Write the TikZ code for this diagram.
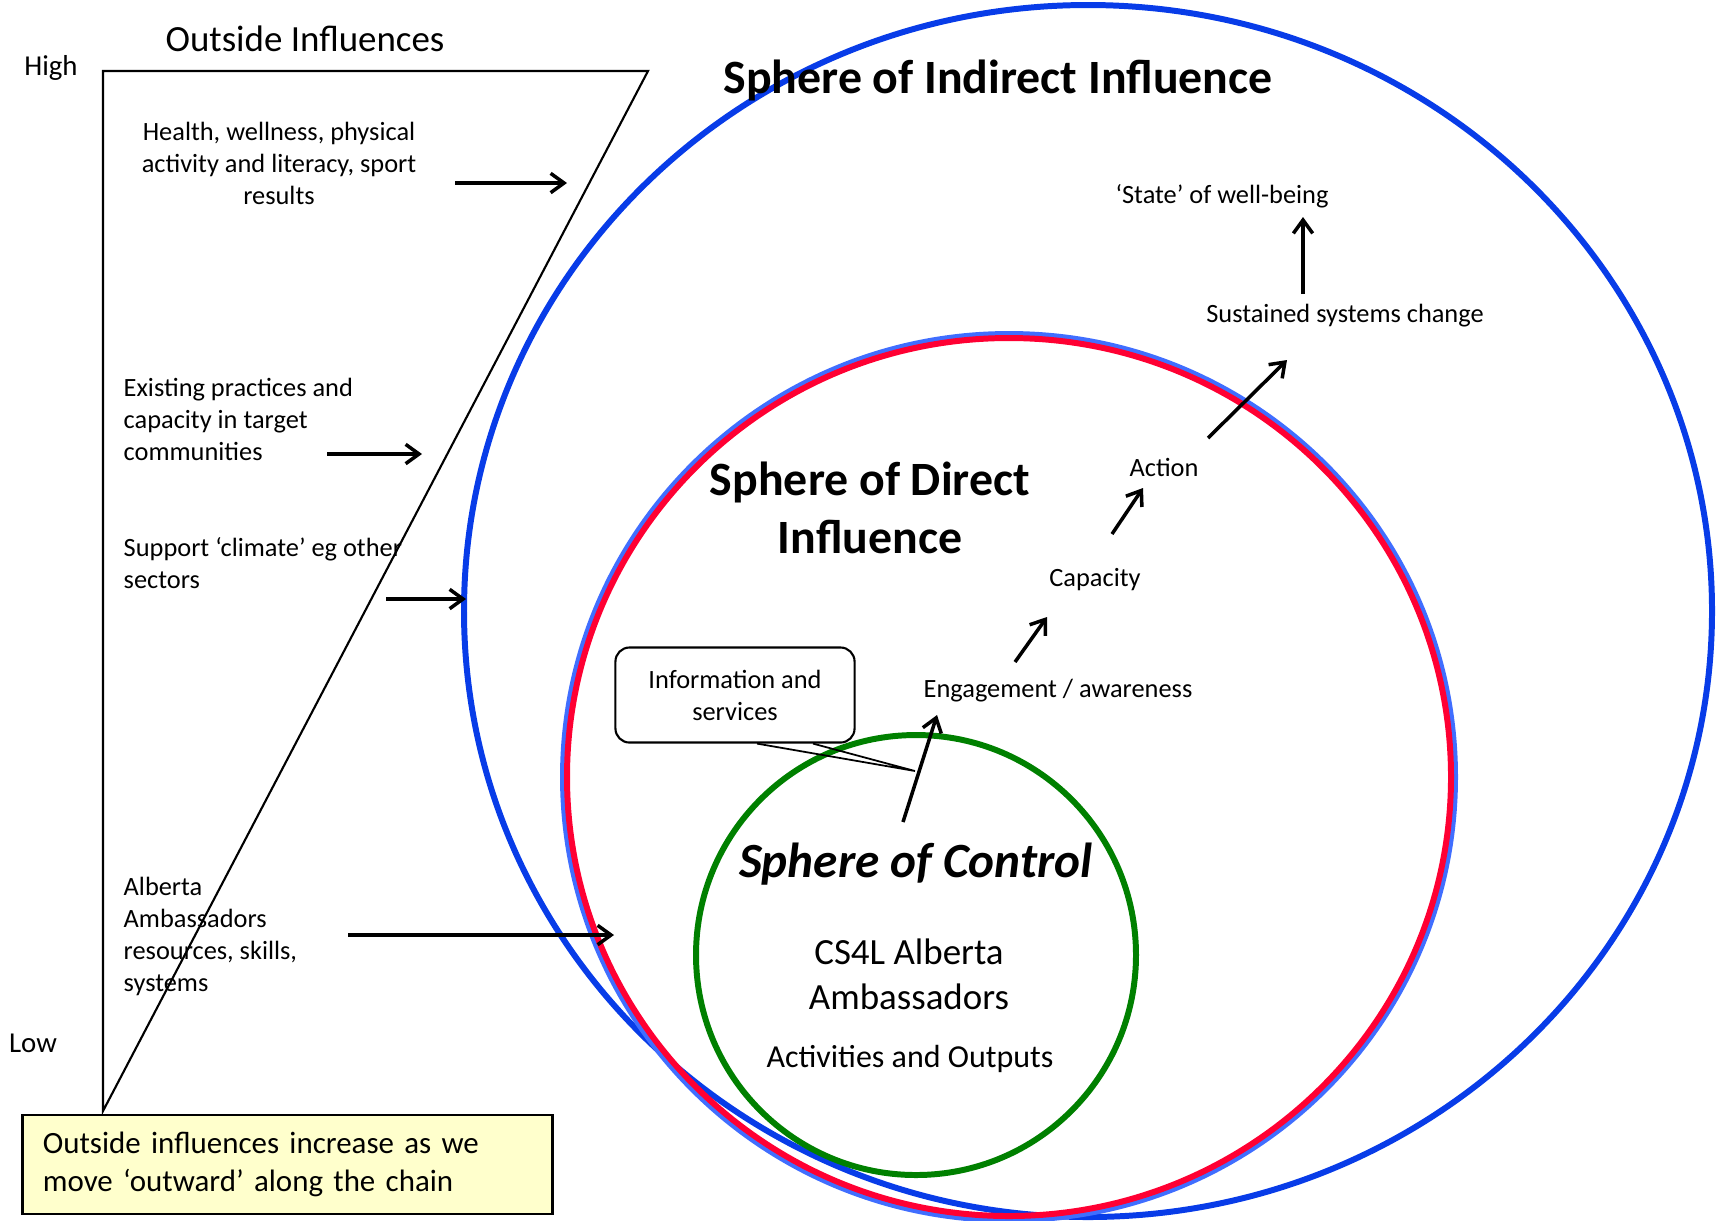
\documentclass[tikz,border=0pt]{standalone}
\usepackage{fontspec}
\setmainfont{Carlito}
\usetikzlibrary{arrows.meta,positioning}
\definecolor{IndirectBlue}{RGB}{8,60,232}
\definecolor{EdgeBlue}{RGB}{64,110,255}
\definecolor{DirectRed}{RGB}{255,0,51}
\definecolor{ControlGreen}{RGB}{0,128,0}
\definecolor{NoteYellow}{RGB}{255,255,204}

\newcommand{\smalltxt}{\fontsize{7.5}{9.1}\selectfont}
\newcommand{\spheretxt}{\bfseries\fontsize{13.6}{16.5}\selectfont}

\tikzset{
    lbl/.style={font=\smalltxt, inner sep=0pt, align=center},
    lbleft/.style={font=\smalltxt, inner sep=0pt, align=left, anchor=west},
    flow/.style={-{Straight Barb[length=3.8pt,width=5.5pt]}, line width=1pt},
    ring/.style={line width=1.7pt}
}

\begin{document}
\begin{tikzpicture}[x=0.01cm, y=-0.01cm]
    \useasboundingbox (0,0) rectangle (1716,1220);

    % Spheres (outer to inner)
    \draw[ring, IndirectBlue] (1088,611) ellipse [x radius=624, y radius=606];
    \draw[ring, EdgeBlue] (1009,777) ellipse [x radius=446, y radius=443];
    \draw[ring, DirectRed] (1009,777) ellipse [x radius=442, y radius=439];
    \draw[ring, ControlGreen] (916,955) circle [radius=220];

    % Outside influences wedge
    \draw[line width=0.6pt] (103,71) -- (648,71) -- (103,1111) -- cycle;

    % Headings
    \node[font=\fontsize{10.5}{12.8}\selectfont, inner sep=0pt] (outside) at (305,39) {Outside Influences};
    \node[font=\fontsize{8.2}{10}\selectfont, inner sep=0pt] (high) at (51,68) {High};
    \node[font=\fontsize{8.2}{10}\selectfont, inner sep=0pt] (low) at (33,1043) {Low};

    \node[font=\spheretxt, inner sep=0pt] (indirect) at (998,80) {Sphere of Indirect Influence};
    \node[font=\spheretxt, inner sep=0pt, align=center] (direct) at (870,508) {Sphere of Direct\\Influence};
    \node[font=\bfseries\itshape\fontsize{14}{17}\selectfont, inner sep=0pt] (ctrl) at (916,864) {Sphere of Control};
    \node[font=\fontsize{10.5}{12.8}\selectfont, inner sep=0pt, align=center] (cs4l) at (909,974) {CS4L Alberta\\Ambassadors};
    \node[font=\fontsize{9.1}{11}\selectfont, inner sep=0pt] (outputs) at (910,1059) {Activities and Outputs};

    % Results chain
    \node[lbl] (eng) at (1058,691) {Engagement / awareness};
    \node[lbl] (cap) at (1095,580) {Capacity};
    \node[lbl] (act) at (1164,467) {Action};
    \node[lbl] (sust) at (1345,316) {Sustained systems change};
    \node[lbl] (state) at (1222,196) {‘State’ of well-being};

    \draw[flow] ([shift={(-13,-42)}]ctrl.center) -- ([shift={(-121,24)}]eng.center);
    \draw[flow] ([shift={(-43,-29)}]eng.center) -- ([shift={(-48,37)}]cap.center);
    \draw[flow] ([shift={(17,-46)}]cap.center) -- ([shift={(-21,21)}]act.center);
    \draw[flow] ([shift={(44,-29)}]act.center) -- ([shift={(-58,44)}]sust.center);
    \draw[flow] ([shift={(-42,-22)}]sust.center) -- ([shift={(81,21)}]state.center);

    % Callout box
    \node[lbl, draw, rounded corners=4pt, line width=0.6pt, minimum width=2.39cm, minimum height=0.95cm] (info) at (735,695) {Information and\\services};
    \coordinate (infotip) at (915,771);
    \draw[line width=0.5pt] ([shift={(22,0)}]info.south) -- (infotip) -- ([shift={(78,0)}]info.south);

    % Outside influence labels
    \node[lbl] (health) at (279,163) {Health, wellness, physical\\activity and literacy, sport\\results};
    \node[lbleft] (exist) at (123,419) {Existing practices and\\capacity in target\\communities};
    \node[lbleft] (support) at (123,563) {Support ‘climate’ eg other\\sectors};
    \node[lbleft] (alberta) at (123,936) {Alberta\\Ambassadors\\resources, skills,\\systems};

    \coordinate (healthin) at (567,183);
    \coordinate (existin) at (422,454);
    \coordinate (supportin) at (466,599);
    \coordinate (albertain) at (614,935);

    \draw[flow] ([shift={(176,20)}]health.center) -- (healthin);
    \draw[flow] ([shift={(204,35)}]exist.west) -- (existin);
    \draw[flow] ([shift={(263,36)}]support.west) -- (supportin);
    \draw[flow] ([shift={(225,-1)}]alberta.west) -- (albertain);

    % Note
    \node[draw, fill=NoteYellow, line width=0.8pt, font=\fontsize{8.8}{10.8}\selectfont, align=left,
          text width=4.89cm, inner xsep=0.2cm, minimum height=0.99cm] (note) at (287.5,1164.5)
          {Outside influences increase as we\\move ‘outward’ along the chain};
\end{tikzpicture}
\end{document}
